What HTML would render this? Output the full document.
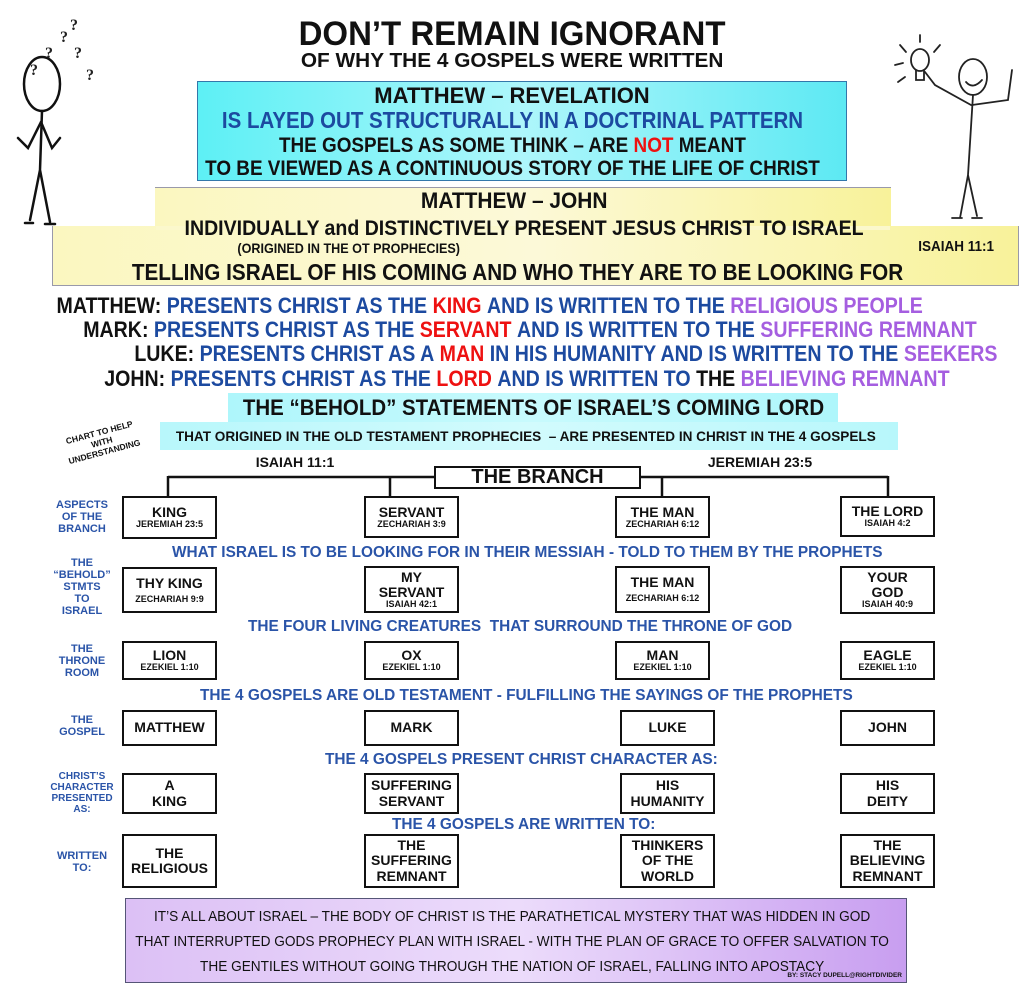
<!DOCTYPE html>
<html><head><meta charset="utf-8"><style>
*{margin:0;padding:0;box-sizing:border-box}
body{width:1024px;height:986px;background:#fff;position:relative;overflow:hidden;font-family:"Liberation Sans",sans-serif;font-weight:bold}
.c{position:absolute;white-space:nowrap;text-align:center;line-height:1}
.c>span{display:inline-block;transform:scaleX(.8);transform-origin:center}
.bx{position:absolute;border:2px solid #111;background:#fff;text-align:center;color:#111;display:flex;flex-direction:column;justify-content:center;line-height:1.08}
.bx b{font-size:14px}
.bx i{font-style:normal;font-size:9px}
.lb{position:absolute;color:#2a54a8;font-size:11px;text-align:center;line-height:1.1;width:70px}
.bl{color:#1c4aa0}.rd{color:#e11}.pu{color:#a55ee0}
.hl{position:absolute;color:#2a54a8;font-size:15.4px;white-space:nowrap}
</style></head><body>
<svg style="position:absolute;left:0;top:0" width="1024" height="986">
<g fill="none" stroke="#111" stroke-width="2.5" stroke-linecap="round">
<ellipse cx="42" cy="84" rx="18" ry="27"/>
<path d="M42 111 L40 170 L30 220 M40 170 L50 222 M25 223 L33 223 M45 224 L55 224"/>
<path d="M41 122 L28 148 L18 138 M41 122 L52 148 L60 138"/>
</g>
<g font-family="Liberation Serif" font-size="16" fill="#222">
<text x="30" y="75">?</text><text x="45" y="58">?</text><text x="60" y="42">?</text><text x="74" y="58">?</text><text x="86" y="80">?</text><text x="70" y="30">?</text></g>
<g fill="none" stroke="#222" stroke-width="1.8" stroke-linecap="round">
<ellipse cx="973" cy="77" rx="14" ry="18"/>
<path d="M973 95 L968 175 L960 218 M968 175 L977 216 M952 218 L962 218 M972 218 L982 218"/>
<path d="M971 105 L935 85 L925 72 M972 105 L1008 100 L1012 70"/>
<path d="M966 82 Q973 90 982 80"/>
<ellipse cx="920" cy="60" rx="9" ry="11"/><path d="M916 70 L916 80 L924 80 L924 70"/>
<path d="M900 45 L906 52 M920 35 L920 42 M940 45 L934 52 M895 65 L903 63 M898 82 L905 77"/>
</g>
<line x1="168" y1="477" x2="434" y2="477" stroke="#111" stroke-width="2.5"/>
<line x1="168" y1="476" x2="168" y2="497" stroke="#111" stroke-width="2.5"/>
<line x1="390" y1="476" x2="390" y2="497" stroke="#111" stroke-width="2.5"/>
<line x1="640" y1="477" x2="888" y2="477" stroke="#111" stroke-width="2.5"/>
<line x1="662" y1="476" x2="662" y2="497" stroke="#111" stroke-width="2.5"/>
<line x1="888" y1="476" x2="888" y2="497" stroke="#111" stroke-width="2.5"/>
</svg>

<div class="c" style="left:0;width:1024px;top:17px;font-size:34px;color:#111"><span style="transform:scaleX(.97)">DON’T REMAIN IGNORANT</span></div>
<div class="c" style="left:0;width:1024px;top:51px;font-size:20px;color:#111"><span style="transform:scaleX(1.04)">OF WHY THE 4 GOSPELS WERE WRITTEN</span></div>

<div style="position:absolute;left:197px;top:81px;width:650px;height:100px;background:linear-gradient(90deg,#5df0f5,#aef6fb 50%,#5de9f3);border:1px solid #37a"></div>
<div class="c" style="left:0;width:1024px;top:85px;font-size:22px;color:#111"><span style="transform:scaleX(1.0)">MATTHEW – REVELATION</span></div>
<div class="c bl" style="left:0;width:1024px;top:109px;font-size:23px"><span style="transform:scaleX(.89)">IS LAYED OUT STRUCTURALLY IN A DOCTRINAL PATTERN</span></div>
<div class="c" style="left:0;width:1024px;top:135px;font-size:21px;color:#111"><span style="transform:scaleX(.9)">THE GOSPELS AS SOME THINK – ARE <b class="rd">NOT</b> MEANT</span></div>
<div class="c" style="left:0;width:1024px;top:158px;font-size:21px;color:#111"><span style="transform:scaleX(.9)">TO BE VIEWED AS A CONTINUOUS STORY OF THE LIFE OF CHRIST</span></div>

<div style="position:absolute;left:155px;top:187px;width:736px;height:50px;background:linear-gradient(90deg,#fbf7c0,#fcf9d8 50%,#f8f29a);border-top:1px solid #99a"></div>
<div style="position:absolute;left:52px;top:226px;width:967px;height:60px;background:linear-gradient(90deg,#fbf7c0,#fcf9d8 50%,#f8f29a);border:1px solid #99a;border-top:none"></div>
<div style="position:absolute;left:156px;top:226px;width:734px;height:4px;background:#fbf8cc"></div>
<div class="c" style="left:0;width:1028px;top:190px;font-size:22px;color:#111"><span style="transform:scaleX(.95)">MATTHEW – JOHN</span></div>
<div class="c" style="left:0;width:1048px;top:218px;font-size:21px;color:#111"><span style="transform:scaleX(.93)">INDIVIDUALLY and DISTINCTIVELY PRESENT JESUS CHRIST TO ISRAEL</span></div>
<div class="c" style="left:222px;width:254px;top:241px;font-size:14px;color:#111"><span style="transform:scaleX(.9)">(ORIGINED IN THE OT PROPHECIES)</span></div>
<div class="c" style="left:903px;width:106px;top:239px;font-size:15px;color:#111"><span style="transform:scaleX(.9)">ISAIAH 11:1</span></div>
<div class="c" style="left:0;width:1035px;top:261px;font-size:23px;color:#111"><span style="transform:scaleX(.9)">TELLING ISRAEL OF HIS COMING AND WHO THEY ARE TO BE LOOKING FOR</span></div>

<div class="c" style="left:-110px;width:1200px;top:295px;font-size:22px;color:#111"><span style="transform:scaleX(.89)">MATTHEW: <b class="bl">PRESENTS CHRIST AS THE</b> <b class="rd">KING</b> <b class="bl">AND IS WRITTEN TO THE</b> <b class="pu">RELIGIOUS PEOPLE</b></span></div>
<div class="c" style="left:-70px;width:1200px;top:319px;font-size:22px;color:#111"><span style="transform:scaleX(.89)">MARK: <b class="bl">PRESENTS CHRIST AS THE</b> <b class="rd">SERVANT</b> <b class="bl">AND IS WRITTEN TO THE</b> <b class="pu">SUFFERING REMNANT</b></span></div>
<div class="c" style="left:-34px;width:1200px;top:343px;font-size:22px;color:#111"><span style="transform:scaleX(.89)">LUKE: <b class="bl">PRESENTS CHRIST AS A</b> <b class="rd">MAN</b> <b class="bl">IN HIS HUMANITY AND IS WRITTEN TO THE</b> <b class="pu">SEEKERS</b></span></div>
<div class="c" style="left:-73px;width:1200px;top:368px;font-size:22px;color:#111"><span style="transform:scaleX(.89)">JOHN: <b class="bl">PRESENTS CHRIST AS THE</b> <b class="rd">LORD</b> <b class="bl">AND IS WRITTEN TO</b> THE <b class="pu">BELIEVING REMNANT</b></span></div>

<div style="position:absolute;left:228px;top:393px;width:610px;height:30px;background:linear-gradient(90deg,#aef6fb,#c8fafd,#aef6fb)"></div>
<div style="position:absolute;left:160px;top:422px;width:738px;height:28px;background:linear-gradient(90deg,#b8f7fb,#d2fbfd,#b8f7fb)"></div>
<div class="c" style="left:0;width:1066px;top:397px;font-size:22px;color:#111"><span style="transform:scaleX(.93)">THE “BEHOLD” STATEMENTS OF ISRAEL’S COMING LORD</span></div>
<div class="c" style="left:0;width:1052px;top:429px;font-size:14px;color:#111"><span style="transform:scaleX(.97)">THAT ORIGINED IN THE OLD TESTAMENT PROPHECIES &nbsp;– ARE PRESENTED IN CHRIST IN THE 4 GOSPELS</span></div>

<div style="position:absolute;left:52px;top:428px;font-size:8.5px;color:#111;transform:rotate(-15deg);text-align:center;line-height:1.15;width:100px">CHART TO HELP<br>WITH<br>UNDERSTANDING</div>

<div class="c" style="left:245px;width:100px;top:455px;font-size:14px;color:#111">ISAIAH 11:1</div>
<div class="c" style="left:695px;width:130px;top:455px;font-size:14px;color:#111">JEREMIAH 23:5</div>
<div class="bx" style="left:434px;top:466px;width:207px;height:23px;font-size:20px"><span style="font-size:20px">THE BRANCH</span></div>

<div class="lb" style="left:47px;top:499px">ASPECTS<br>OF THE<br>BRANCH</div>
<div class="lb" style="left:47px;top:557px">THE<br>“BEHOLD”<br>STMTS<br>TO<br>ISRAEL</div>
<div class="lb" style="left:47px;top:643px">THE<br>THRONE<br>ROOM</div>
<div class="lb" style="left:47px;top:714px">THE<br>GOSPEL</div>
<div class="lb" style="left:47px;top:771px;font-size:10px">CHRIST’S<br>CHARACTER<br>PRESENTED<br>AS:</div>
<div class="lb" style="left:47px;top:850px">WRITTEN<br>TO:</div>

<div class="bx" style="left:122px;top:496px;width:95px;height:43px"><b>KING</b><i>JEREMIAH 23:5</i></div>
<div class="bx" style="left:364px;top:496px;width:95px;height:42px"><b>SERVANT</b><i>ZECHARIAH 3:9</i></div>
<div class="bx" style="left:615px;top:496px;width:95px;height:42px"><b>THE MAN</b><i>ZECHARIAH 6:12</i></div>
<div class="bx" style="left:840px;top:496px;width:95px;height:41px"><b>THE LORD</b><i>ISAIAH 4:2</i></div>

<div class="hl" style="left:172px;top:544px">WHAT ISRAEL IS TO BE LOOKING FOR IN THEIR MESSIAH - TOLD TO THEM BY THE PROPHETS</div>

<div class="bx" style="left:122px;top:567px;width:95px;height:46px"><b>THY KING</b><i style="margin-top:4px">ZECHARIAH 9:9</i></div>
<div class="bx" style="left:364px;top:566px;width:95px;height:47px"><b>MY<br>SERVANT</b><i>ISAIAH 42:1</i></div>
<div class="bx" style="left:615px;top:566px;width:95px;height:47px"><b>THE MAN</b><i style="margin-top:4px">ZECHARIAH 6:12</i></div>
<div class="bx" style="left:840px;top:566px;width:95px;height:48px"><b>YOUR<br>GOD</b><i>ISAIAH 40:9</i></div>

<div class="hl" style="left:248px;top:618px">THE FOUR LIVING CREATURES &nbsp;THAT SURROUND THE THRONE OF GOD</div>

<div class="bx" style="left:122px;top:641px;width:95px;height:39px"><b>LION</b><i>EZEKIEL 1:10</i></div>
<div class="bx" style="left:364px;top:641px;width:95px;height:39px"><b>OX</b><i>EZEKIEL 1:10</i></div>
<div class="bx" style="left:615px;top:641px;width:95px;height:39px"><b>MAN</b><i>EZEKIEL 1:10</i></div>
<div class="bx" style="left:840px;top:641px;width:95px;height:39px"><b>EAGLE</b><i>EZEKIEL 1:10</i></div>

<div class="hl" style="left:200px;top:687px">THE 4 GOSPELS ARE OLD TESTAMENT - FULFILLING THE SAYINGS OF THE PROPHETS</div>

<div class="bx" style="left:122px;top:710px;width:95px;height:36px"><b>MATTHEW</b></div>
<div class="bx" style="left:364px;top:710px;width:95px;height:36px"><b>MARK</b></div>
<div class="bx" style="left:620px;top:710px;width:95px;height:36px"><b>LUKE</b></div>
<div class="bx" style="left:840px;top:710px;width:95px;height:36px"><b>JOHN</b></div>

<div class="hl" style="left:325px;top:751px">THE 4 GOSPELS PRESENT CHRIST CHARACTER AS:</div>

<div class="bx" style="left:122px;top:773px;width:95px;height:41px"><b>A<br>KING</b></div>
<div class="bx" style="left:364px;top:773px;width:95px;height:41px"><b>SUFFERING<br>SERVANT</b></div>
<div class="bx" style="left:620px;top:773px;width:95px;height:41px"><b>HIS<br>HUMANITY</b></div>
<div class="bx" style="left:840px;top:773px;width:95px;height:41px"><b>HIS<br>DEITY</b></div>

<div class="hl" style="left:392px;top:816px">THE 4 GOSPELS ARE WRITTEN TO:</div>

<div class="bx" style="left:122px;top:834px;width:95px;height:54px"><b>THE<br>RELIGIOUS</b></div>
<div class="bx" style="left:364px;top:834px;width:95px;height:54px"><b>THE<br>SUFFERING<br>REMNANT</b></div>
<div class="bx" style="left:620px;top:834px;width:95px;height:54px"><b>THINKERS<br>OF THE<br>WORLD</b></div>
<div class="bx" style="left:840px;top:834px;width:95px;height:54px"><b>THE<br>BELIEVING<br>REMNANT</b></div>

<div style="position:absolute;left:125px;top:898px;width:782px;height:85px;background:linear-gradient(90deg,#dcc0f5,#ecdcfb 50%,#c89ef0);border:1px solid #557"></div>
<div class="c" style="left:0;width:1024px;top:904px;font-size:15px;font-weight:normal;color:#111;line-height:25px"><span style="transform:scaleX(.91)">IT’S ALL ABOUT ISRAEL – THE BODY OF CHRIST IS THE PARATHETICAL MYSTERY THAT WAS HIDDEN IN GOD<br>THAT INTERRUPTED GODS PROPHECY PLAN WITH ISRAEL - WITH THE PLAN OF GRACE TO OFFER SALVATION TO<br>THE GENTILES WITHOUT GOING THROUGH THE NATION OF ISRAEL, FALLING INTO APOSTACY</span></div>
<div class="c" style="left:720px;width:182px;top:973px;font-size:6.5px;color:#111;text-align:right">BY: STACY DUPELL@RIGHTDIVIDER</div>
</body></html>
